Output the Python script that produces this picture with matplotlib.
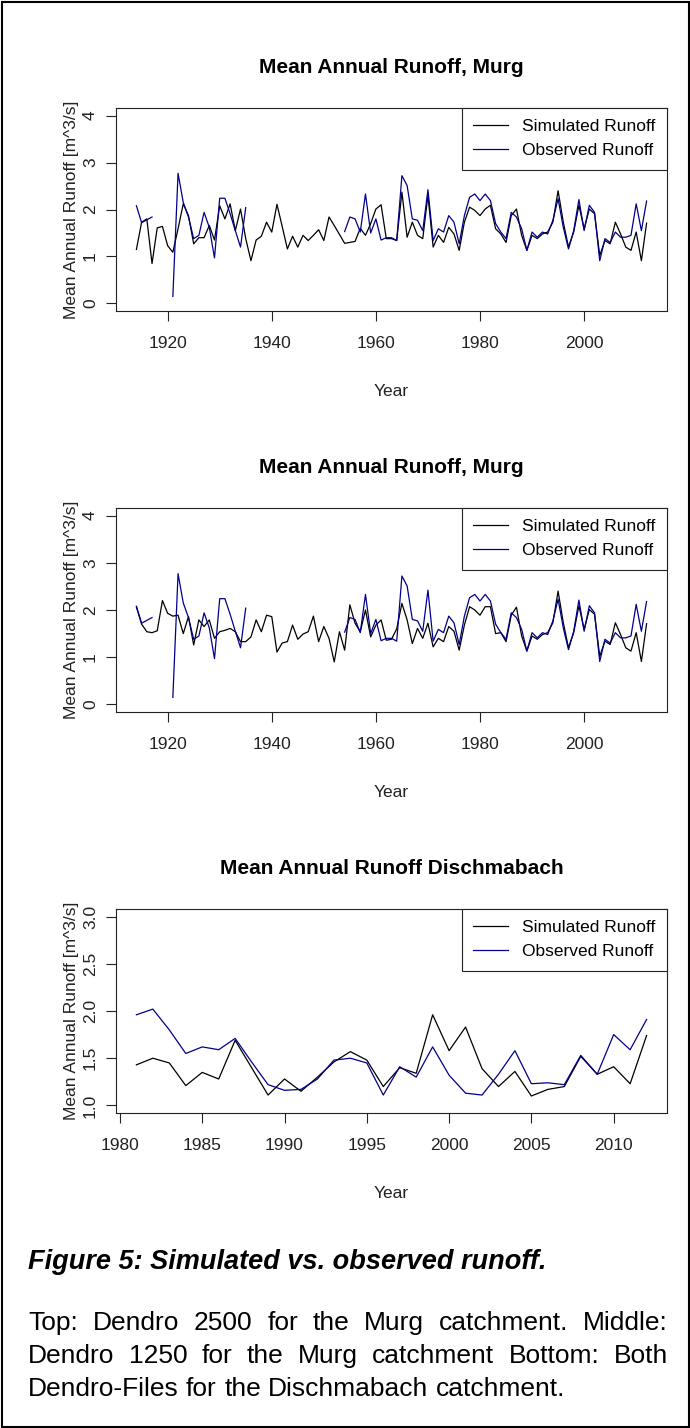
import numpy as np
import matplotlib
matplotlib.use('Agg')
import matplotlib.pyplot as plt
from matplotlib.patches import Rectangle

plt.rcParams['font.family'] = ['Liberation Sans', 'DejaVu Sans']

# murg catchment, yearly means 1914-2012
murg_years = np.arange(1914, 2013)

# observed runoff, same gauge record in both murg panels (nan = no record)
murg_obs = [
    2.08, 1.72, 1.78, 1.84, np.nan, np.nan, np.nan,
    0.15, 2.77, 2.15, 1.84, 1.38, 1.45, 1.94, 1.62, 0.97, 2.24,
    2.24, 1.91, 1.55, 1.20, 2.04,
    np.nan, np.nan, np.nan, np.nan, np.nan, np.nan, np.nan, np.nan, np.nan,
    np.nan, np.nan, np.nan, np.nan, np.nan, np.nan, np.nan, np.nan, np.nan,
    1.53, 1.84, 1.80, 1.52, 2.33, 1.50, 1.80, 1.35, 1.40, 1.40,
    1.34, 2.72, 2.51, 1.80, 1.77, 1.55, 2.42, 1.34, 1.59, 1.52,
    1.87, 1.73, 1.27, 1.87, 2.26, 2.33, 2.19, 2.33, 2.19, 1.70,
    1.52, 1.38, 1.94, 1.84, 1.59, 1.13, 1.52, 1.41, 1.52, 1.48,
    1.77, 2.23, 1.62, 1.16, 1.55, 2.21, 1.55, 2.09, 1.94, 0.91,
    1.38, 1.30, 1.52, 1.41, 1.41, 1.45, 2.12, 1.55, 2.18,
]

# simulated runoff, dendro 2500
murg_sim_2500 = [
    1.15, 1.73, 1.80, 0.85, 1.61, 1.64, 1.23, 1.09, 1.59, 2.12,
    1.87, 1.27, 1.40, 1.40, 1.66, 1.35, 2.08, 1.80, 2.12, 1.55,
    2.01, 1.38, 0.91, 1.35, 1.43, 1.73, 1.52, 2.11, 1.64, 1.16,
    1.43, 1.20, 1.45, 1.34, 1.45, 1.57, 1.34, 1.84, 1.66, 1.47,
    1.28, 1.30, 1.32, 1.60, 1.45, 1.70, 2.01, 2.10, 1.38, 1.38,
    1.34, 2.37, 1.41, 1.73, 1.45, 1.38, 2.30, 1.20, 1.45, 1.30,
    1.62, 1.48, 1.13, 1.73, 2.05, 1.98, 1.87, 2.01, 2.09, 1.59,
    1.48, 1.30, 1.87, 2.01, 1.45, 1.13, 1.45, 1.38, 1.48, 1.52,
    1.73, 2.40, 1.73, 1.20, 1.52, 2.09, 1.59, 2.01, 1.91, 1.02,
    1.34, 1.27, 1.73, 1.48, 1.20, 1.13, 1.52, 0.91, 1.71,
]

# simulated runoff, dendro 1250
murg_sim_1250 = [
    2.06, 1.70, 1.54, 1.52, 1.56, 2.20, 1.93, 1.87, 1.89, 1.50,
    1.86, 1.26, 1.79, 1.65, 1.79, 1.40, 1.54, 1.57, 1.61, 1.54,
    1.33, 1.33, 1.43, 1.79, 1.54, 1.89, 1.86, 1.11, 1.30, 1.33,
    1.68, 1.38, 1.49, 1.54, 1.87, 1.33, 1.65, 1.40, 0.90, 1.54,
    1.15, 2.11, 1.72, 1.54, 2.00, 1.43, 1.68, 1.79, 1.36, 1.38,
    1.60, 2.14, 1.79, 1.29, 1.61, 1.40, 1.72, 1.22, 1.40, 1.33,
    1.65, 1.55, 1.15, 1.68, 2.07, 2.00, 1.89, 2.07, 2.07, 1.50,
    1.52, 1.33, 1.89, 2.06, 1.45, 1.13, 1.45, 1.38, 1.48, 1.52,
    1.73, 2.40, 1.73, 1.20, 1.52, 2.09, 1.59, 2.01, 1.91, 1.02,
    1.34, 1.27, 1.73, 1.48, 1.20, 1.13, 1.52, 0.91, 1.71,
]

# dischmabach catchment, 1981-2012
disch_years = np.arange(1981, 2013)
disch_sim = [
    1.43, 1.50, 1.45, 1.21, 1.35, 1.28, 1.69, 1.40, 1.11, 1.28,
    1.15, 1.30, 1.46, 1.57, 1.48, 1.20, 1.40, 1.34, 1.96, 1.58,
    1.83, 1.39, 1.20, 1.36, 1.10, 1.17, 1.20, 1.52, 1.33, 1.41,
    1.23, 1.74,
]
disch_obs = [
    1.96, 2.02, 1.80, 1.55, 1.62, 1.59, 1.71, 1.46, 1.22, 1.16,
    1.17, 1.28, 1.48, 1.50, 1.45, 1.11, 1.41, 1.30, 1.62, 1.32,
    1.13, 1.11, 1.33, 1.58, 1.23, 1.24, 1.22, 1.53, 1.33, 1.75,
    1.59, 1.91,
]

W, H = 690, 1428
fig = plt.figure(figsize=(W / 100, H / 100), dpi=100)
fig.patch.set_facecolor('white')

sim_color = 'black'
obs_color = '#00008b'
ink = '#222222'


def px_axes(left, top, right, bottom):
    return fig.add_axes([left / W, 1 - bottom / H,
                         (right - left) / W, (bottom - top) / H])


def runoff_panel(ax, years, sim, obs, title, xlim, ylim, xticks, yticks,
                 yticklabels):
    ax.plot(years, sim, color=sim_color, lw=0.9, label='Simulated Runoff')
    ax.plot(years, obs, color=obs_color, lw=0.9, label='Observed Runoff')
    ax.set_xlim(xlim)
    ax.set_ylim(ylim)
    ax.set_xticks(xticks)
    ax.set_yticks(yticks)
    ax.set_yticklabels(yticklabels, rotation=90, va='center')
    ax.tick_params(direction='out', length=7, width=0.8, labelsize=12.5,
                   colors=ink, pad=6)
    ax.tick_params(axis='x', pad=11)
    for s in ax.spines.values():
        s.set_linewidth(0.8)
        s.set_color(ink)
    ax.set_xlabel('Year', fontsize=12.5, color=ink, labelpad=24)
    ax.set_ylabel('Mean Annual Runoff [m^3/s]', fontsize=12.5,
                  color=ink, labelpad=3)
    ax.set_title(title, fontsize=15, fontweight='bold', pad=25)
    leg = ax.legend(loc='upper right', borderaxespad=0, fancybox=False,
                    framealpha=1, edgecolor=ink, fontsize=12.5,
                    handlelength=2.0, handletextpad=0.85, labelspacing=0.5,
                    borderpad=0.65)
    leg.get_frame().set_linewidth(0.8)


# axis ranges padded 4% past the data, as in the base plot
murg_xlim = (1914 - 0.04 * 98, 2012 + 0.04 * 98)
murg_ylim = (-0.16, 4.16)
disch_xlim = (1981 - 0.04 * 31, 2012 + 0.04 * 31)
disch_ylim = (0.92, 3.08)

ax1 = px_axes(116, 108, 667, 311)
runoff_panel(ax1, murg_years, murg_sim_2500, murg_obs,
             'Mean Annual Runoff, Murg', murg_xlim, murg_ylim,
             [1920, 1940, 1960, 1980, 2000], [0, 1, 2, 3, 4],
             ['0', '1', '2', '3', '4'])

ax2 = px_axes(116, 508, 667, 712)
runoff_panel(ax2, murg_years, murg_sim_1250, murg_obs,
             'Mean Annual Runoff, Murg', murg_xlim, murg_ylim,
             [1920, 1940, 1960, 1980, 2000], [0, 1, 2, 3, 4],
             ['0', '1', '2', '3', '4'])

ax3 = px_axes(116, 909, 667, 1113)
runoff_panel(ax3, disch_years, disch_sim, disch_obs,
             'Mean Annual Runoff Dischmabach', disch_xlim, disch_ylim,
             [1980, 1985, 1990, 1995, 2000, 2005, 2010],
             [1.0, 1.5, 2.0, 2.5, 3.0],
             ['1.0', '1.5', '2.0', '2.5', '3.0'])

# caption under the plots
fig.text(28 / W, 1 - 1262 / H, 'Figure 5: Simulated vs. observed runoff.',
         fontsize=19.5, fontweight='bold', fontstyle='italic', va='center')

caption_lines = [
    'Top: Dendro 2500 for the Murg catchment. Middle:',
    'Dendro 1250 for the Murg catchment Bottom: Both',
    'Dendro-Files for the Dischmabach catchment.',
]
line_y = [1323, 1356, 1389]

# justified paragraph: spread the words of each full line to the margin
renderer = fig.canvas.get_renderer()
space_w = fig.text(0, 0, ' ', fontsize=19).get_window_extent(renderer).width
for i, (line, y) in enumerate(zip(caption_lines, line_y)):
    words = line.split(' ')
    texts = [fig.text(0, 1 - y / H, w, fontsize=19, va='center')
             for w in words]
    widths = [t.get_window_extent(renderer).width for t in texts]
    if i < len(caption_lines) - 1:
        gap = (668 - 28 - sum(widths)) / (len(words) - 1)
    else:
        gap = max(space_w, 5)
    x = 28
    for t, wd in zip(texts, widths):
        t.set_x(x / W)
        x += wd + gap

# frame around the whole figure
fig.patches.append(Rectangle((1.5 / W, 1.5 / H), (W - 3) / W, (H - 3) / H,
                             transform=fig.transFigure, fill=False,
                             edgecolor='black', linewidth=1.5))

fig.savefig('out.png', dpi=100)
